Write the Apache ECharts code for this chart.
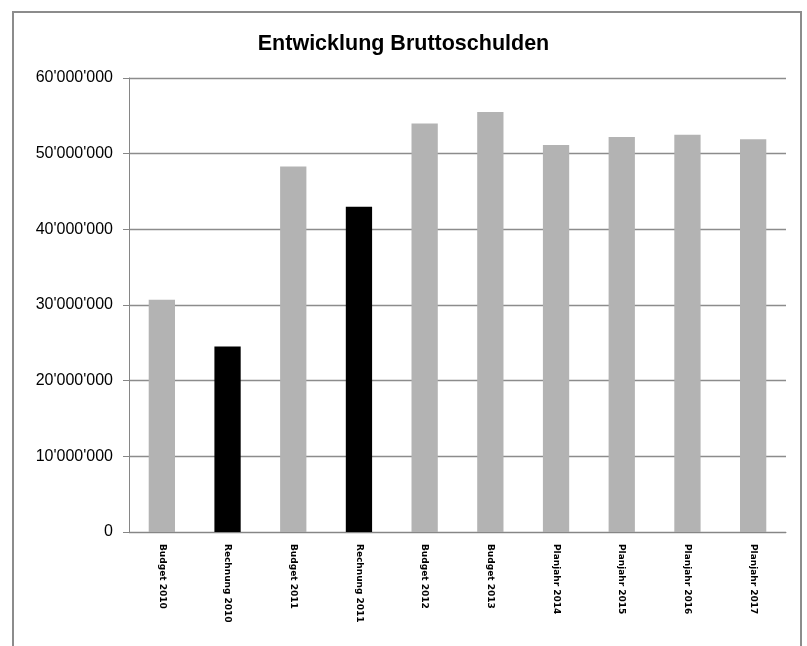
<!DOCTYPE html>
<html>
<head>
<meta charset="utf-8">
<script src="https://cdn.jsdelivr.net/npm/echarts@6/dist/echarts.min.js"></script>
<style>
  html, body { margin: 0; padding: 0; overflow: hidden; background: #fff; }
  .frame {
    position: absolute; left: 12px; top: 11px; width: 790px; height: 700px;
    border: 2px solid #8c8c8c; box-sizing: border-box;
  }
  #main { position: absolute; left: 0; top: 0; width: 807px; height: 646px; }
</style>
</head>
<body>
<div class="frame"></div>
<div id="main"></div>
<script>
  // Kategorien und Werte (CHF)
  const categories = ['Budget 2010', 'Rechnung 2010', 'Budget 2011', 'Rechnung 2011', 'Budget 2012',
    'Budget 2013', 'Planjahr 2014', 'Planjahr 2015', 'Planjahr 2016', 'Planjahr 2017'];
  const values = [30700000, 24500000, 48300000, 43000000, 54000000,
    55500000, 51150000, 52200000, 52500000, 51900000];
  const yTicks = [0, 10000000, 20000000, 30000000, 40000000, 50000000, 60000000];

  function fmt(v) {
    return String(v).replace(/\B(?=(\d{3})+(?!\d))/g, "'");
  }

  const chart = echarts.init(document.getElementById('main'));
  chart.setOption({
    animation: false,
    title: {
      text: 'Entwicklung Bruttoschulden',
      left: 'center',
      top: 28,
      textStyle: { fontFamily: 'Liberation Sans', fontWeight: 'bold', fontSize: 21.5, color: '#000' }
    },
    grid: { left: 129, right: 21, top: 78, bottom: 114 },
    xAxis: {
      type: 'category',
      data: categories,
      axisLine: { lineStyle: { color: '#868686', width: 1 } },
      axisTick: { length: 4, lineStyle: { color: '#868686' } },
      axisLabel: {
        rotate: -90,
        margin: 12,
        fontFamily: 'DejaVu Sans',
        fontWeight: 'bold',
        fontSize: 9,
        color: '#000'
      }
    },
    yAxis: {
      type: 'value',
      min: yTicks[0],
      max: yTicks[yTicks.length - 1],
      interval: yTicks[1] - yTicks[0],
      axisLine: { show: true, lineStyle: { color: '#868686', width: 1 } },
      axisTick: { show: true, length: 6, lineStyle: { color: '#868686' } },
      splitLine: { lineStyle: { color: '#8c8c8c', width: 1.3 } },
      axisLabel: {
        formatter: fmt,
        margin: 16,
        fontFamily: 'Liberation Sans',
        fontSize: 16,
        color: '#000'
      }
    },
    series: [{
      type: 'bar',
      data: values,
      barWidth: '40%',
      itemStyle: {
        color: function (p) {
          return p.name.indexOf('Rechnung') === 0 ? '#000000' : '#b3b3b3';
        }
      }
    }]
  });
</script>
</body>
</html>
